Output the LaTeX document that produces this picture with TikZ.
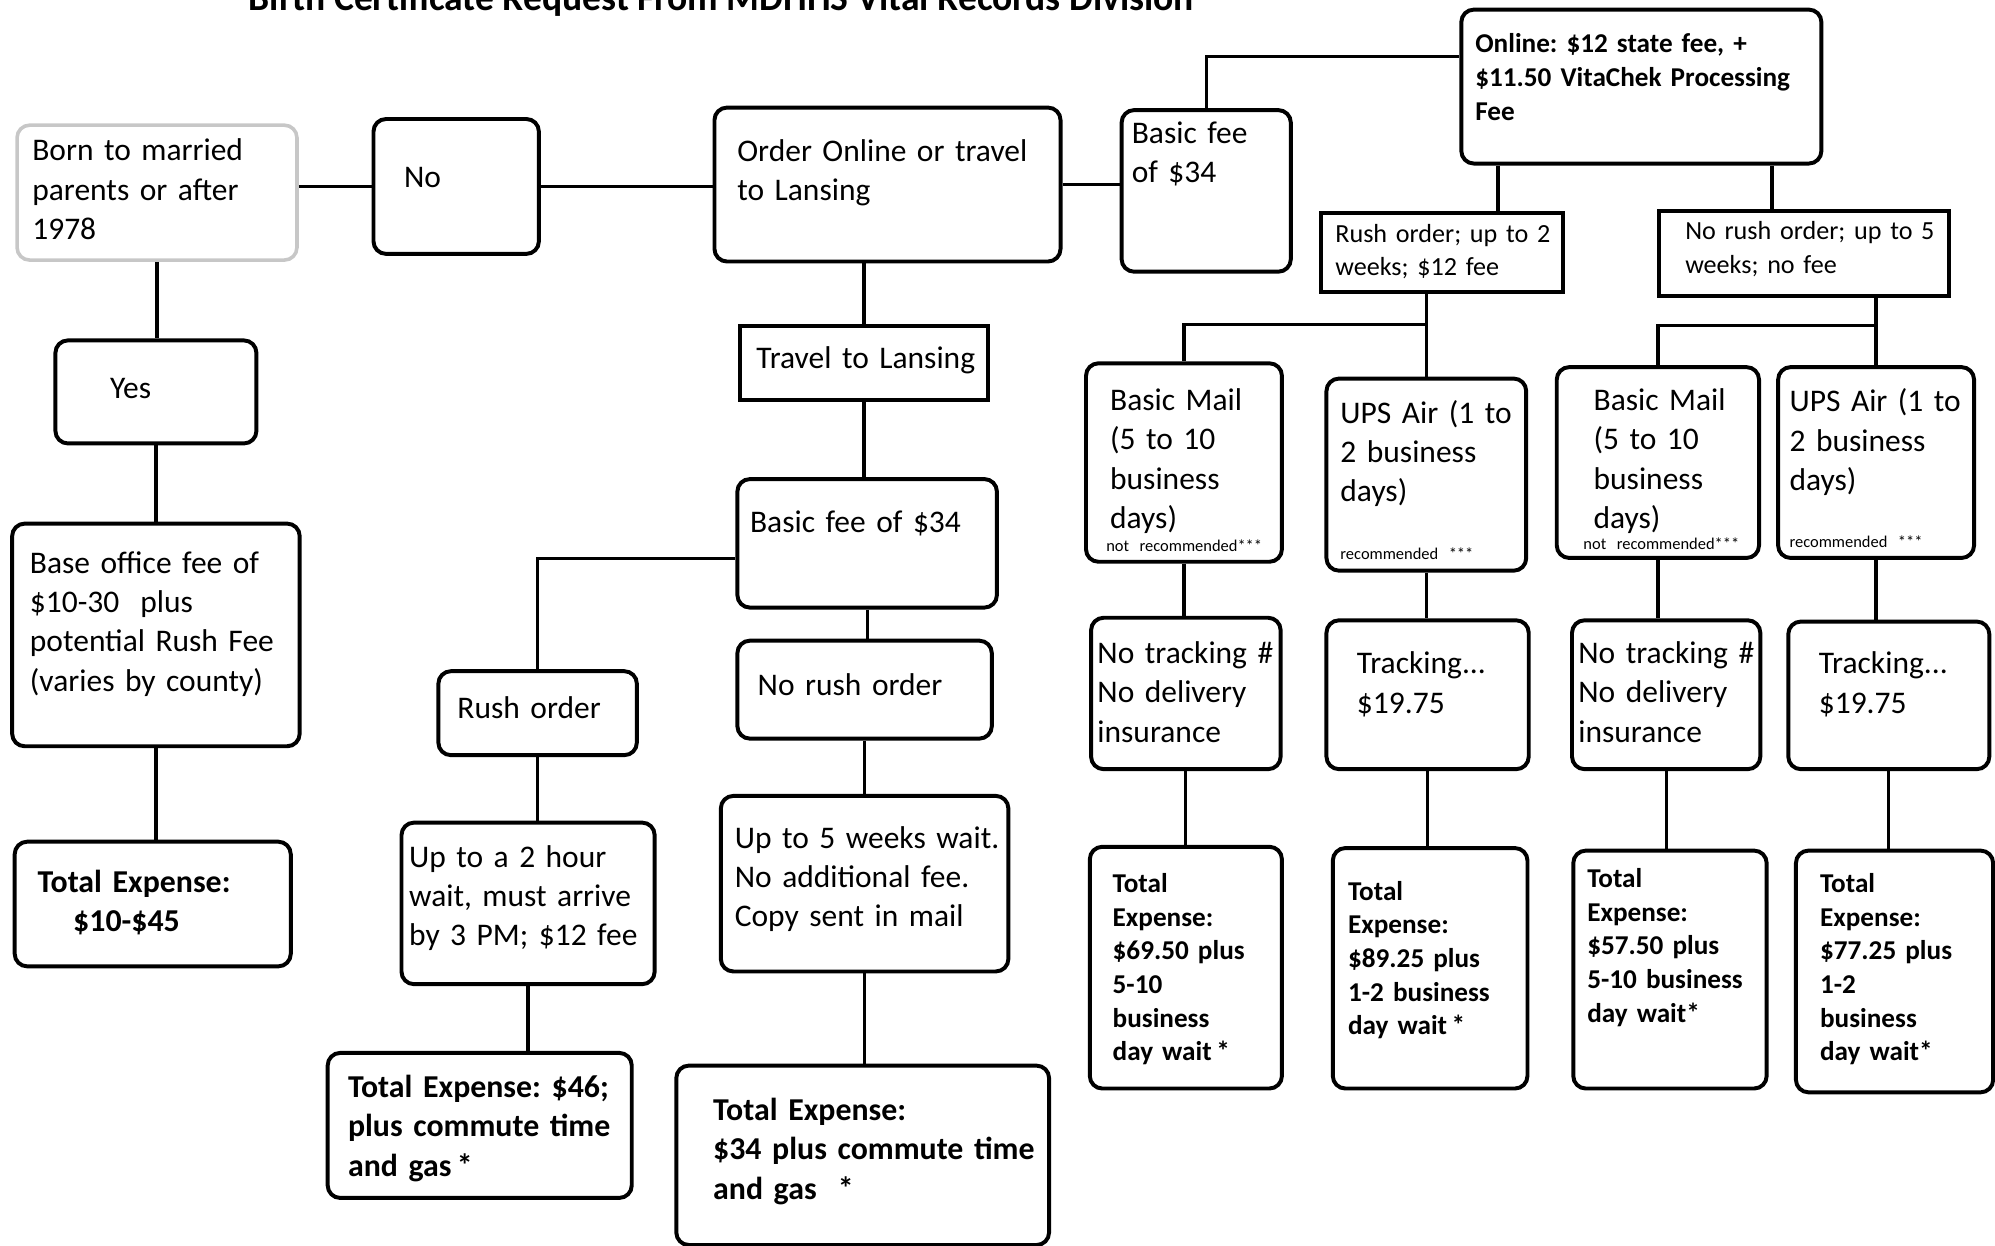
\documentclass[tikz,border=0pt]{standalone}
\usepackage{fontspec}
\setmainfont{Carlito}
\usetikzlibrary{positioning, calc}
\newdimen\px \px=0.0125cm
\newcommand{\regtext}{\fontsize{8.8}{11}\selectfont\frenchspacing}
\newcommand{\bldtext}{\fontsize{8.9}{11}\selectfont\bfseries\frenchspacing}
\newcommand{\smalltext}{\fontsize{7.3}{9.3}\selectfont\frenchspacing}
\newcommand{\smallbld}{\fontsize{7.6}{9.4}\selectfont\bfseries\frenchspacing}
\newcommand{\tinytext}{\fontsize{4.6}{5.5}\selectfont}
% box size: width, height, first baseline from top, left indent (all in px)
\tikzset{sz/.style n args={4}{text width=#1*0.0125cm, text height=#3*0.0125cm,
    text depth=(#2-#3)*0.0125cm, execute at begin node={\leftskip=#4\px}}}

\begin{document}
\begin{tikzpicture}[x=0.0125cm, y=-0.0125cm]%
            \tikzstyle{box} = [draw, line width=1.1pt, rounded corners=3.5pt, anchor=north west, inner sep=0pt, align=left, font=\regtext]
            \tikzstyle{sbox} = [box, sharp corners]
            \tikzstyle{pale} = [box, draw=black!22, line width=1pt]
            \tikzstyle{sm} = [font=\smalltext]
            \tikzstyle{smb} = [font=\smallbld]
            \tikzstyle{bld} = [font=\bldtext]
            \tikzstyle{link} = [line width=0.9pt]
        %%
            \useasboundingbox (0,0) rectangle (1568,979);
            \clip (0,0) rectangle (1568,979);
            \node [font=\fontsize{10.5}{12}\selectfont\bfseries, anchor=base west, inner sep=0pt] (title) at (195,8.5) {Birth Certificate Request From MDHHS Vital Records Division};

            %% Married parents branch
            \node [pale, sz={220}{106}{28}{12}] (born) at (12,97) {Born to married\\parents or after\\1978};
            \node [box, sz={158}{81}{46}{43}] (yes) at (42,266) {Yes};
            \node [box, sz={226}{175}{39}{14}] (base) at (8,410) {Base office fee of\\\$10-30~~plus\\potential Rush Fee\\(varies by county)};
            \node [box, bld, sz={217}{98}{40}{18}] (totyes) at (10,660) {Total Expense:\\\hspace*{28\px}\$10-\$45};

            %% Travel to Lansing
            \node [box, sz={130}{106}{54}{24}] (no) at (292,92) {No};
            \node [box, sz={272}{121}{42}{18}] (order) at (560,83) {Order Online or travel\\to Lansing};
            \node [sbox, sz={195}{58}{33}{13}] (travel) at (580,255) {Travel to Lansing};
            \node [box, sz={204}{101}{42}{10}] (fee) at (578,375) {Basic fee of \$34};
            \node [box, sz={156}{66}{37}{15}] (rush) at (343,526) {Rush order};
            \node [box, sz={200}{77}{43}{16}] (norush) at (578,502) {No rush order};
            \node [box, sz={199}{127}{35}{6}] (hour) at (314,645) {Up to a 2 hour\\wait, must arrive\\by 3 PM; \$12 fee};
            \node [box, sz={226}{138}{41}{11}] (weeks) at (565,624) {Up to 5 weeks wait.\\No additional fee.\\Copy sent in mail};
            \node [box, bld, sz={239}{114}{35}{16}] (totrush) at (256,826) {Total Expense: \$46;\\plus commute time\\and gas\,*};
            \node [box, bld, sz={293}{141}{43}{29}] (totnorush) at (530,836) {Total Expense:\\\$34 plus commute time\\and gas~~*};

            %% Online
            \node [box, sz={133}{127}{26}{8}] (feeon) at (880,85) {Basic fee\\of \$34};
            \node [box, smb, sz={283}{121}{34}{11}] (online) at (1147,6) {Online: \$12 state fee, +\\\$11.50 VitaChek Processing\\Fee};
            \node [sbox, sm, sz={190}{62}{23}{11}] (rushon) at (1037,166) {Rush order; up to 2\\weeks; \$12 fee};
            \node [sbox, sm, sz={228}{67}{23}{21}] (norushon) at (1302,164) {No rush order; up to 5\\weeks; no fee};

            %% Shipping
            \node [box, sz={154}{156}{37}{19}] (mail1) at (852,284) {Basic Mail\\(5 to 10\\business\\days)\\[-4.6pt]{\tinytext\hspace*{-3\px}not recommended***}};
            \node [box, sz={157}{151}{35}{11}] (ups1) at (1041,296) {UPS Air (1 to\\2 business\\days)\\[5pt]{\tinytext recommended ***}};
            \node [box, sz={159}{150}{34}{29}] (mail2) at (1222,287) {Basic Mail\\(5 to 10\\business\\days)\\[-5pt]{\tinytext\hspace*{-8\px}not recommended***}};
            \node [box, sz={154}{150}{35}{9}] (ups2) at (1396,287) {UPS Air (1 to\\2 business\\days)\\[5pt]{\tinytext recommended ***}};
            \node [box, sz={149}{119}{36}{5}] (notrack1) at (856,484) {No tracking \#\\No delivery\\insurance};
            \node [box, sz={159}{117}{42}{24}] (track1) at (1041,486) {Tracking...\\\$19.75};
            \node [box, sz={148}{117}{34}{5}] (notrack2) at (1234,486) {No tracking \#\\No delivery\\insurance};
            \node [box, sz={158}{116}{41}{24}] (track2) at (1404,487) {Tracking...\\\$19.75};

            %% Totals
            \node [box, smb, sz={151}{190}{36}{18}] (tot1) at (855,664) {Total\\Expense:\\\$69.50 plus\\5-10\\business\\day wait\,*};
            \node [box, smb, sz={153}{189}{41}{12}] (tot2) at (1046,665) {Total\\Expense:\\\$89.25 plus\\1-2 business\\day wait\,*};
            \node [box, smb, sz={152}{187}{29}{11}] (tot3) at (1235,667) {Total\\Expense:\\\$57.50 plus\\5-10 business\\day wait*};
            \node [box, smb, sz={155}{190}{33}{19}] (tot4) at (1410,667) {Total\\Expense:\\\$77.25 plus\\1-2\\business\\day wait*};

            %% Connectors
            \draw [link] (born.east |- no.west) -- (no.west);
            \draw [link] (born.south) -- (born.south |- yes.north);
            \draw [link] (yes.south) -- (yes.south |- base.north);
            \draw [link] (base.south) -- (base.south |- totyes.north);

            \draw [link] (no.east) -- (no.east -| order.west);
            \draw [link] (travel.north) -- (travel.north |- order.south);
            \draw [link] (travel.south) -- (travel.south |- fee.north);
            \draw [link] (rush.north) |- ($(fee.west)+(0,12)$);
            \draw [link] (fee.south) -- (fee.south |- norush.north);
            \draw [link] (rush.south) -- (rush.south |- hour.north);
            \draw [link] (hour.south) -- (hour.south |- totrush.north);
            \draw [link] (norush.south) -- (norush.south |- weeks.north);
            \draw [link] (weeks.south) -- (weeks.south |- totnorush.north);

            \draw [link] (order.east) -- (order.east -| feeon.west);
            \draw [link] (feeon.north) |- ($(online.north west)!0.31!(online.south west)$);
            \coordinate (on1) at ($(online.south west)!0.106!(online.south east)$);
            \coordinate (on2) at ($(online.south west)!0.859!(online.south east)$);
            \draw [link] (on1) -- (on1 |- rushon.north);
            \draw [link] (on2) -- (on2 |- norushon.north);

            \coordinate (rj) at ($(rushon.south -| ups1.north)+(0,24)$);
            \coordinate (nj) at ($(norushon.south -| ups2.north)+(0,22)$);
            \draw [link] (rushon.south -| ups1.north) -- (ups1.north);
            \draw [link] (mail1.north) |- (rj);
            \draw [link] (norushon.south -| ups2.north) -- (ups2.north);
            \draw [link] (mail2.north) |- (nj);

            \draw [link] (mail1.south) -- (mail1.south |- notrack1.north);
            \draw [link] (notrack1.south) -- (notrack1.south |- tot1.north);
            \draw [link] (ups1.south) -- (ups1.south |- track1.north);
            \draw [link] (track1.south) -- (track1.south |- tot2.north);
            \draw [link] (mail2.south) -- (mail2.south |- notrack2.north);
            \draw [link] (notrack2.south) -- (notrack2.south |- tot3.north);
            \draw [link] (ups2.south) -- (ups2.south |- track2.north);
            \draw [link] (track2.south) -- (track2.south |- tot4.north);
        \end{tikzpicture}
\end{document}
